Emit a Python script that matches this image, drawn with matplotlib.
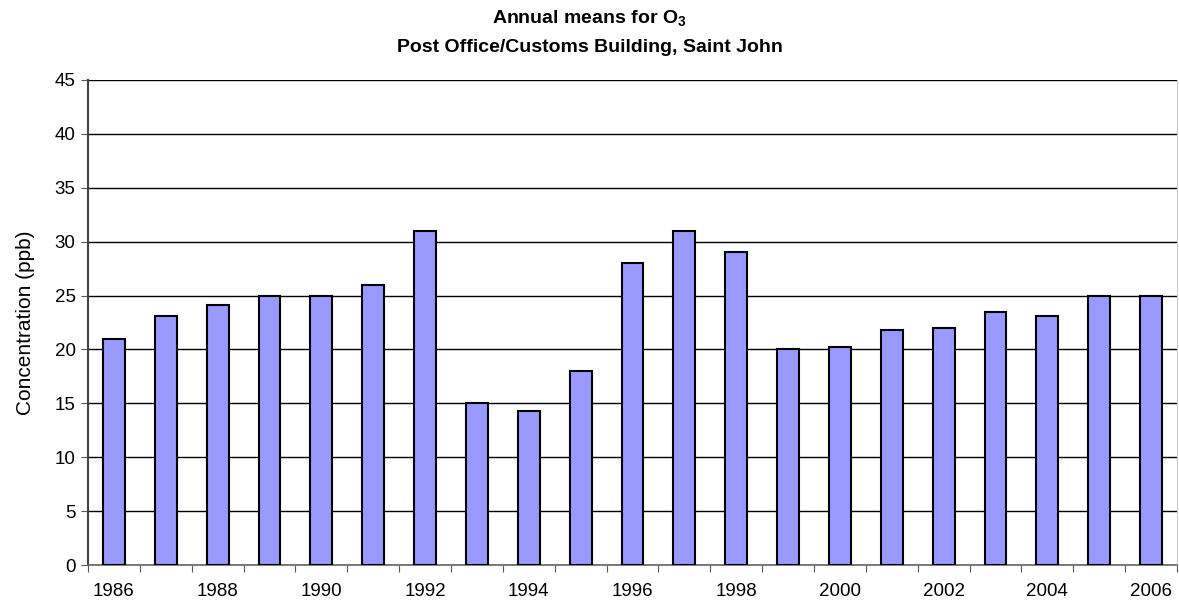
import matplotlib
matplotlib.use("Agg")
import matplotlib.pyplot as plt
import numpy as np

years = list(range(1986, 2007))
values = [21, 23.1, 24.1, 25, 25, 26, 31, 15, 14.3, 18, 28, 31, 29, 20, 20.2, 21.8, 22, 23.5, 23.1, 25, 25]
yticks = [0, 5, 10, 15, 20, 25, 30, 35, 40, 45]
title_line1 = "Annual means for O$_{\\mathbf{3}}$"
title_line2 = "Post Office/Customs Building, Saint John"
ylabel = "Concentration (ppb)"

plt.rcParams['font.family'] = ['Liberation Sans', 'DejaVu Sans']
plt.rcParams['mathtext.fontset'] = 'custom'
plt.rcParams['mathtext.rm'] = 'Liberation Sans'
plt.rcParams['mathtext.bf'] = 'Liberation Sans:bold'

fig = plt.figure(figsize=(11.79, 6.10), dpi=100)
ax = fig.add_axes([88/1179, 1 - 565/610, (1177 - 88)/1179, (565 - 80)/610])

x = np.arange(len(years))
ax.bar(x, values, width=0.42, color='#9999FF', edgecolor='black', linewidth=1.5, zorder=3)

ax.set_xlim(-0.5, len(years) - 0.5)
ax.set_ylim(0, 45)
ax.set_yticks(yticks)
ax.set_yticklabels([str(v) for v in yticks], fontsize=13.5)
ax.yaxis.grid(True, color='black', linewidth=1.0, zorder=0)

# major ticks at category boundaries, labels every other year
ax.set_xticks(np.arange(len(years) + 1) - 0.5)
ax.set_xticklabels([])
ax.set_xticks(x[::2], minor=True)
ax.set_xticklabels([str(y) for y in years[::2]], minor=True, fontsize=13.5)
ax.tick_params(axis='x', which='major', direction='out', length=5, color='#555555')
ax.tick_params(axis='x', which='minor', length=0, pad=13)
ax.tick_params(axis='y', direction='out', length=5, color='#555555', pad=4)

ax.spines['top'].set_visible(False)
ax.spines['right'].set_color('#cccccc')
ax.spines['left'].set_color('#444444')
ax.spines['left'].set_linewidth(1.5)
ax.spines['bottom'].set_color('#666666')
ax.spines['bottom'].set_linewidth(1.2)

ax.set_ylabel(ylabel, fontsize=15, labelpad=14)

fig.text(0.5, 1 - 19/610, title_line1, ha='center', va='center', fontsize=14, fontweight='bold')
fig.text(0.5, 1 - 48/610, title_line2, ha='center', va='center', fontsize=14, fontweight='bold')

fig.savefig('out.png', dpi=100)
